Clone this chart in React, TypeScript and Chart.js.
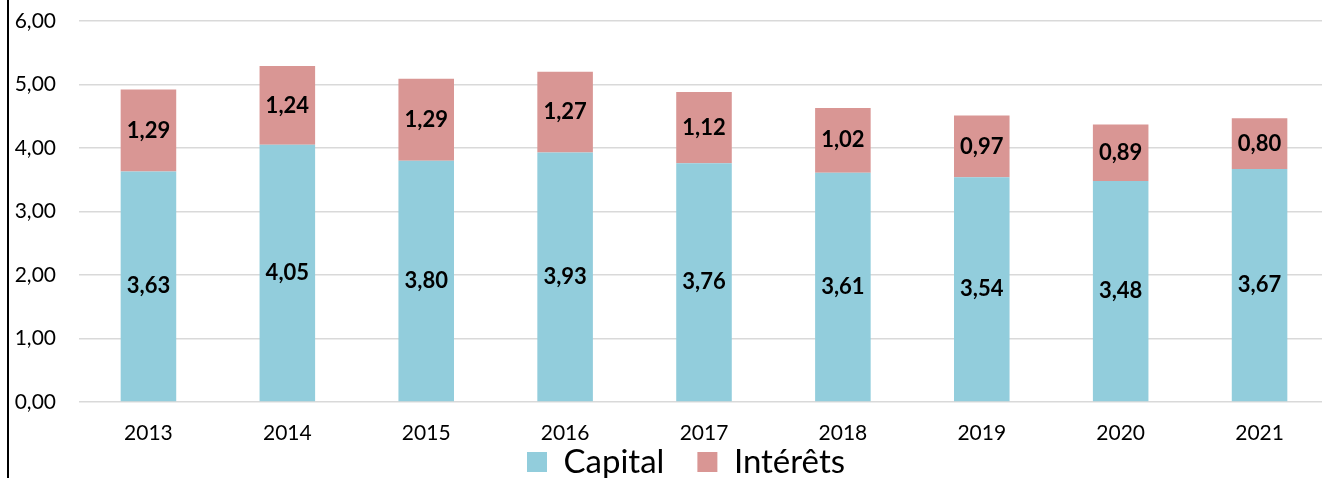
import { useEffect, useRef } from 'react';
import { Chart, registerables, CategoryScale } from 'chart.js';

Chart.register(...registerables);

// Category axis whose tick labels are not clipped to the axis box
class CategoryNoClip extends (CategoryScale as any) {
  static id = 'categoryNoClip';
  static defaults = (CategoryScale as any).defaults;
  _computeLabelArea() {
    return undefined;
  }
}
Chart.register(CategoryNoClip as any);

const years = ['2013', '2014', '2015', '2016', '2017', '2018', '2019', '2020', '2021'];
const capital = [3.63, 4.05, 3.8, 3.93, 3.76, 3.61, 3.54, 3.48, 3.67];
const interets = [1.29, 1.24, 1.29, 1.27, 1.12, 1.02, 0.97, 0.89, 0.8];
const seriesNames = ['Capital', 'Intérêts'];
const seriesColors = ['#92CDDC', '#D99694'];
const yMin = 0;
const yMax = 6;
const yStep = 1;

const fmt = (v: number) => v.toFixed(2).replace('.', ',');

const barLabels = {
  id: 'barLabels',
  afterDatasetsDraw(chart: any) {
    const ctx = chart.ctx;
    ctx.save();
    ctx.font = 'bold 22px Lato';
    ctx.fillStyle = '#000';
    ctx.textAlign = 'center';
    ctx.textBaseline = 'middle';
    chart.data.datasets.forEach((ds: any, i: number) => {
      const meta = chart.getDatasetMeta(i);
      meta.data.forEach((el: any, j: number) => {
        const { x, y, base } = el.getProps(['x', 'y', 'base'], true);
        ctx.fillText(fmt(ds.data[j] as number), x, (y + base) / 2);
      });
    });
    ctx.restore();
  },
};

export default function App() {
  const ref = useRef<HTMLCanvasElement | null>(null);

  useEffect(() => {
    if (!ref.current) return;
    Chart.defaults.font.family = 'Lato';
    Chart.defaults.color = '#000';
    const chart = new Chart(ref.current, {
      type: 'bar',
      data: {
        labels: years,
        datasets: [
          {
            label: seriesNames[0],
            data: capital,
            backgroundColor: seriesColors[0],
            borderWidth: 0,
            categoryPercentage: 1,
            barPercentage: 0.4,
          },
          {
            label: seriesNames[1],
            data: interets,
            backgroundColor: seriesColors[1],
            borderWidth: 0,
            categoryPercentage: 1,
            barPercentage: 0.4,
          },
        ],
      },
      options: {
        responsive: false,
        animation: false,
        layout: { padding: { left: 0, right: 0, top: 21, bottom: -10.5 } },
        plugins: {
          legend: {
            position: 'bottom',
            labels: {
              boxWidth: 20,
              boxHeight: 20,
              padding: 33,
              color: '#000',
              font: { size: 33 },
            },
          },
          tooltip: { enabled: false },
        },
        scales: {
          x: {
            type: 'categoryNoClip',
            stacked: true,
            offset: true,
            grid: { display: false, drawTicks: false },
            border: { display: false },
            ticks: { padding: 19, color: '#000', font: { size: 21 } },
            afterFit: (s: any) => {
              s.height = 10.5;
            },
          },
          y: {
            stacked: true,
            min: yMin,
            max: yMax,
            ticks: {
              stepSize: yStep,
              padding: 0,
              color: '#000',
              font: { size: 21 },
              callback: (v: any) => fmt(Number(v)),
            },
            grid: {
              color: '#d9d9d9',
              lineWidth: 1.5,
              drawTicks: true,
              tickLength: 23,
              tickColor: 'rgba(0,0,0,0)',
            },
            border: { display: false },
            afterFit: (s: any) => {
              s.width = 79;
            },
          },
          yR: {
            type: 'linear',
            position: 'right',
            grid: { display: false, drawTicks: false },
            border: { display: false },
            ticks: { display: false },
            afterFit: (s: any) => {
              s.width = 43;
            },
          },
        },
      },
      plugins: [barLabels],
    } as any);
    return () => chart.destroy();
  }, []);

  return (
    <div
      style={{
        position: 'fixed',
        left: 0,
        top: 0,
        width: 1322,
        height: 478,
        overflow: 'hidden',
        background: '#fff',
      }}
    >
      <canvas ref={ref} width={1372} height={478} style={{ display: 'block' }} />
      <div
        style={{
          position: 'absolute',
          left: 7,
          top: 0,
          width: 2,
          height: 478,
          background: '#000',
        }}
      />
    </div>
  );
}
